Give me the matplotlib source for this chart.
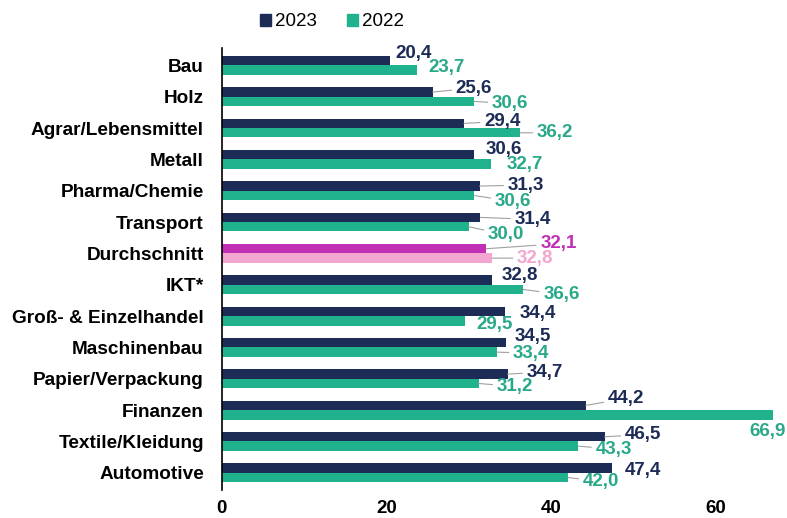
import matplotlib
matplotlib.use("Agg")
import matplotlib.pyplot as plt
import numpy as np
from matplotlib.patches import Patch

categories = ["Bau", "Holz", "Agrar/Lebensmittel", "Metall", "Pharma/Chemie", "Transport",
              "Durchschnitt", "IKT*", "Groß- & Einzelhandel", "Maschinenbau",
              "Papier/Verpackung", "Finanzen", "Textile/Kleidung", "Automotive"]
values_2023 = [20.4, 25.6, 29.4, 30.6, 31.3, 31.4, 32.1, 32.8, 34.4, 34.5, 34.7, 44.2, 46.5, 47.4]
values_2022 = [23.7, 30.6, 36.2, 32.7, 30.6, 30.0, 32.8, 36.6, 29.5, 33.4, 31.2, 66.9, 43.3, 42.0]
series_names = ["2023", "2022"]
x_ticks = [0, 20, 40, 60]

# label offsets in pixels from bar end (dx, dy) and leader flags
off_2023 = [(6, 7), (23, 4), (20, 2), (12, 5), (28, 1), (34, -2), (54, 5), (10, 5),
            (15, -2), (9, 6), (19, 2), (22, 7), (20, 2), (13, -2)]
off_2022 = [(11, 3), (18, -2), (17, 0), (16, 0), (21, -6), (19, -8), (25, 0), (20, -5),
            (12, -4), (16, -1), (18, -3), (-23, -17), (17, -3), (15, -4)]
lead_2023 = [0, 1, 1, 0, 1, 1, 1, 0, 0, 0, 1, 1, 1, 0]
lead_2022 = [0, 1, 1, 0, 1, 1, 1, 1, 0, 1, 1, 0, 1, 1]

NAVY = "#1d2b57"
TEAL = "#1fb28c"
TEAL_TXT = "#2aa98a"
MAG = "#c12fb4"
PINK = "#f2a6d0"

plt.rcParams['font.family'] = ['Liberation Sans', 'DejaVu Sans']

fig = plt.figure(figsize=(7.87, 5.18), dpi=100)
ax = fig.add_axes([0.282, 0.054, 0.705, 0.853])

n = len(categories)
y = np.arange(n)
h = 0.3
avg_idx = categories.index("Durchschnitt")
c23 = [MAG if i == avg_idx else NAVY for i in range(n)]
c22 = [PINK if i == avg_idx else TEAL for i in range(n)]
ax.barh(y - h / 2, values_2023, height=h, color=c23)
ax.barh(y + h / 2, values_2022, height=h, color=c22)

ax.set_xlim(0, 67.4)
ax.set_ylim(n - 0.45, -0.55)
ax.set_yticks(y)
ax.set_yticklabels(categories, fontsize=13.7, fontweight='bold')
ax.set_xticks(x_ticks)
ax.set_xticklabels([str(t) for t in x_ticks], fontsize=13.5, fontweight='bold')
ax.tick_params(axis='both', length=0)
ax.tick_params(axis='y', pad=13)
ax.tick_params(axis='x', pad=7)
for s in ["top", "right", "bottom"]:
    ax.spines[s].set_visible(False)
ax.spines["left"].set_color("black")
ax.spines["left"].set_linewidth(1.2)


def fmt(v):
    return f"{v:.1f}".replace(".", ",")


for i in range(n):
    for vals, offs, leads, yy, col in [
        (values_2023, off_2023, lead_2023, y[i] - h / 2, MAG if i == avg_idx else NAVY),
        (values_2022, off_2022, lead_2022, y[i] + h / 2, PINK if i == avg_idx else TEAL_TXT),
    ]:
        dx, dy = offs[i]
        ap = None
        if leads[i]:
            ap = dict(arrowstyle='-', color='#a0a0a0', lw=0.8, shrinkA=1, shrinkB=0)
        ax.annotate(fmt(vals[i]), xy=(vals[i], yy), xytext=(dx, dy),
                    textcoords='offset pixels', ha='left', va='center',
                    fontsize=13.5, fontweight='bold', color=col,
                    arrowprops=ap, annotation_clip=False)

handles = [Patch(color=NAVY), Patch(color=TEAL)]
fig.legend(handles, series_names, loc='center', bbox_to_anchor=(0.422, 0.958), ncol=2,
           frameon=False, fontsize=13.5, handlelength=0.6, handleheight=0.6,
           handletextpad=0.2, columnspacing=1.6)

fig.savefig("out.png", dpi=100)
